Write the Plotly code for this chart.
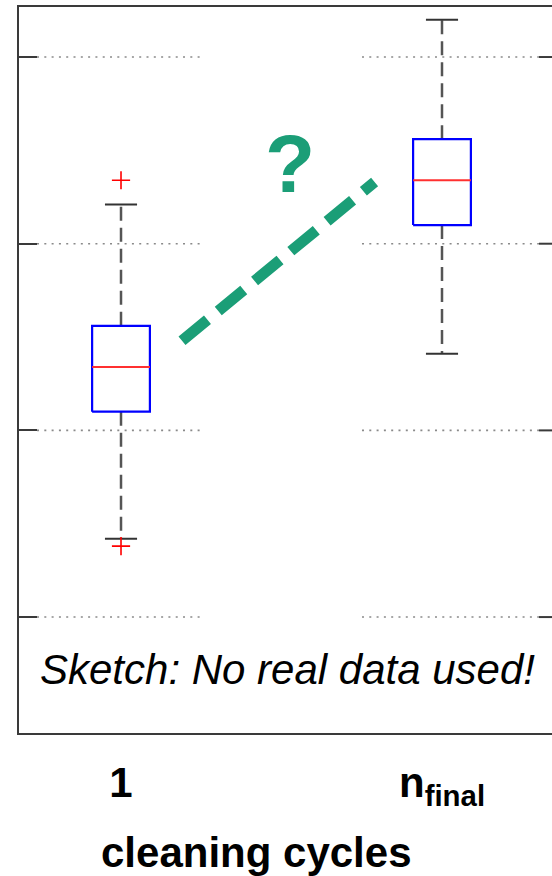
import plotly.graph_objects as go

# Box-plot sketch: spread of a measure after the first and the final cleaning cycle
cycle_pos = [1, 2]
cycle_labels = ["<b>1</b>", "<b>n<sub>final</sub></b>"]
q1 = [2.10, 3.10]
median = [2.34, 3.34]
q3 = [2.56, 3.56]
whisker_low = [1.42, 2.41]
whisker_high = [3.21, 4.20]
outlier_pos = [1, 1]
outlier_val = [3.34, 1.38]
trend_x = [1.19, 1.79]
trend_y = [2.48, 3.33]
grid_vals = [1, 2, 3, 4]

BOX_HALF = 0.09
CAP_HALF = 0.05
FONT = "Liberation Sans, Arial, sans-serif"
GREEN = "#1b9e77"
AXIS_COLOR = "#3a3a3a"

fig = go.Figure()

for p, lo, a, m, b, hi in zip(cycle_pos, whisker_low, q1, median, q3, whisker_high):
    # whiskers (dashed), drawn from the box edges out to the caps
    fig.add_trace(go.Scatter(
        x=[p, p, None, p, p], y=[b, hi, None, a, lo], mode="lines",
        line=dict(color="#555555", width=2.5, dash="14px,7px"),
        hoverinfo="skip", showlegend=False))
    # whisker caps
    fig.add_trace(go.Scatter(
        x=[p - CAP_HALF, p + CAP_HALF, None, p - CAP_HALF, p + CAP_HALF],
        y=[hi, hi, None, lo, lo], mode="lines",
        line=dict(color="#333333", width=2),
        hoverinfo="skip", showlegend=False))
    # interquartile box
    fig.add_trace(go.Scatter(
        x=[p - BOX_HALF, p + BOX_HALF, p + BOX_HALF, p - BOX_HALF, p - BOX_HALF],
        y=[a, a, b, b, a], mode="lines",
        line=dict(color="#0000ff", width=2.2),
        hoverinfo="skip", showlegend=False))
    # median
    fig.add_trace(go.Scatter(
        x=[p - BOX_HALF, p + BOX_HALF], y=[m, m], mode="lines",
        line=dict(color="#ff3030", width=2),
        hoverinfo="skip", showlegend=False))

# outliers
fig.add_trace(go.Scatter(
    x=outlier_pos, y=outlier_val, mode="markers",
    marker=dict(symbol="cross-thin", size=13, line=dict(color="#ff0000", width=1.6)),
    hoverinfo="skip", showlegend=False))

# hypothesised trend between the two states
fig.add_trace(go.Scatter(
    x=trend_x, y=trend_y, mode="lines",
    line=dict(color=GREEN, width=11, dash="33px,14px"),
    hoverinfo="skip", showlegend=False))

# dotted grid segments and right-hand ticks
shapes = []
for v in grid_vals:
    for x0, x1 in [(0.0338, 0.3433), (0.6435, 0.9756)]:
        shapes.append(dict(type="line", xref="paper", yref="y", x0=x0, x1=x1, y0=v, y1=v,
                           line=dict(color="#8a8a8a", width=1.6, dash="2px,5.3px"), layer="below"))
    shapes.append(dict(type="line", xref="paper", yref="y", x0=0.9756, x1=1.0, y0=v, y1=v,
                       line=dict(color=AXIS_COLOR, width=2)))

annotations = [
    dict(text="<b>?</b>", x=1.526, y=3.43, xref="x", yref="y", showarrow=False,
         font=dict(family=FONT, size=82, color=GREEN), xanchor="center", yanchor="middle"),
    dict(text="<i>Sketch: No real data used!</i>", x=0.503, y=0.088, xref="paper", yref="paper",
         showarrow=False, font=dict(family=FONT, size=42, color="black"),
         xanchor="center", yanchor="middle"),
    dict(text="<b>cleaning cycles</b>", x=0.4465, y=-0.165, xref="paper", yref="paper",
         showarrow=False, font=dict(family=FONT, size=42, color="black"),
         xanchor="center", yanchor="middle"),
]

fig.update_layout(
    width=552, height=876,
    margin=dict(l=19, r=0, t=7, b=143, pad=0),
    paper_bgcolor="white", plot_bgcolor="white",
    shapes=shapes, annotations=annotations,
    xaxis=dict(range=[0.6822, 2.3427], tickmode="array", tickvals=cycle_pos, ticktext=cycle_labels,
               ticks="", showline=True, mirror=True, linecolor=AXIS_COLOR, linewidth=2,
               showgrid=False, zeroline=False, ticklabelstandoff=12,
               tickfont=dict(family=FONT, size=42, color="black")),
    yaxis=dict(range=[0.379, 4.268], tickmode="array", tickvals=grid_vals, showticklabels=False,
               ticks="inside", ticklen=18, tickwidth=2, tickcolor=AXIS_COLOR,
               showline=True, mirror=False, linecolor=AXIS_COLOR, linewidth=2,
               showgrid=False, zeroline=False),
)

fig.write_html("out.html")
